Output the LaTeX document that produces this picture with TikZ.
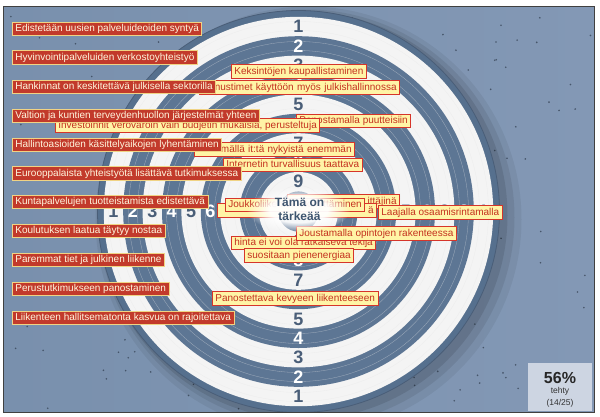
\documentclass[tikz,border=0pt]{standalone}
\usepackage{fontspec}
\setmainfont{Liberation Sans}
\usetikzlibrary{positioning}
\usetikzlibrary{fadings}
\definecolor{bgleft}{HTML}{7990AD}
\definecolor{bgmid}{HTML}{627E9E}
\definecolor{bgright}{HTML}{8398B5}
\definecolor{speck}{HTML}{2E3B4C}
\definecolor{rim}{HTML}{56708E}
\definecolor{ringb}{HTML}{5D7694}
\definecolor{ringw}{HTML}{F4F4F4}
\definecolor{numdark}{HTML}{4A5E78}
\definecolor{lblred}{HTML}{C23A2B}
\definecolor{lblrim}{HTML}{F0D384}
\definecolor{lbltext}{HTML}{FFF6DE}
\definecolor{ylwfill}{HTML}{FFF4A6}
\definecolor{ylwrim}{HTML}{D6352A}
\definecolor{ylwtext}{HTML}{C4311F}
\definecolor{focustext}{HTML}{3E556F}
\definecolor{statfill}{HTML}{CDD5E2}
\pgfdeclareradialshading{glowshade}{\pgfpointorigin}{color(0bp)=(white); color(14bp)=(white); color(25bp)=(black); color(50bp)=(black)}
\pgfdeclarefading{glowfade}{\pgfuseshading{glowshade}}

\begin{document}
\begin{tikzpicture}[x=1pt,y=-1pt,
    redlbl/.style={draw=lblrim, fill=lblred, text=lbltext, line width=0.8pt,
        font=\fontsize{10}{11}\selectfont, inner xsep=3pt, inner ysep=2pt,
        text height=7.3pt, text depth=2pt, anchor=west},
    ylwlbl/.style={draw=ylwrim, fill=ylwfill, text=ylwtext, line width=0.8pt,
        font=\fontsize{10}{11}\selectfont, inner xsep=3pt, inner ysep=2pt,
        text height=7.3pt, text depth=2pt, anchor=west},
    ringnum/.style={font=\fontsize{18}{18}\bfseries\selectfont, inner sep=0pt}
    ]
\edef\cx{298.5}
\edef\cy{211.5}
\edef\R{201}

\useasboundingbox (0,0) rectangle (600,416);
\shade[left color=bgleft, middle color=bgmid, right color=bgright] (3,6) rectangle (594,412);

% specks on the backdrop
\pgfmathsetseed{17}
\foreach \i in {1,...,140} {
  \pgfmathsetmacro{\sx}{6+rnd*585}
  \pgfmathsetmacro{\sy}{9+rnd*400}
  \fill[speck, opacity=0.7] (\sx,\sy) circle (0.9);
}

\begin{scope}
\clip (3,6) rectangle (594,412);
% shadow of the board
\fill[black, opacity=0.06] (\cx+10,\cy+8) circle (\R+12);
\fill[black, opacity=0.08] (\cx+8,\cy+6) circle (\R+7);
\fill[black, opacity=0.10] (\cx+5,\cy+4) circle (\R+3);

% the board
\filldraw[fill=rim, draw=numdark, thick] (\cx,\cy) circle (\R);
\fill[ringw] (\cx,\cy) circle (194.7);
\fill[ringb] (\cx,\cy) circle (175.3);
\fill[ringw] (\cx,\cy) circle (155.9);
\fill[ringb] (\cx,\cy) circle (136.5);
\fill[ringw] (\cx,\cy) circle (117.1);
\fill[ringb] (\cx,\cy) circle (97.7);
\fill[ringw] (\cx,\cy) circle (78.3);
\fill[ringb] (\cx,\cy) circle (58.9);
\fill[ringw] (\cx,\cy) circle (39.5);
\fill[ringb] (\cx,\cy) circle (20.1);

% grooves
\foreach \g in {190,181,170,161,151,142,132,122,113,103,93,84,74,64,55,45,35,26}
  \draw[gray!20, line width=0.3pt, opacity=0.5] (\cx,\cy) circle (\g);
\end{scope}

% ring numbers
\foreach \k in {1,...,9} {
  \pgfmathsetmacro{\rr}{185-19.4*(\k-1)}
  \pgfmathtruncatemacro{\odd}{mod(\k,2)}
  \ifnum\odd=1 \def\nc{numdark}\else\def\nc{white}\fi
  \node[ringnum, text=\nc] (nt\k) at (\cx,\cy-\rr) {\k};
  \node[ringnum, text=\nc] (nb\k) at (\cx,\cy+\rr) {\k};
  \node[ringnum, text=\nc] (nl\k) at (\cx-\rr,\cy) {\k};
  \node[ringnum, text=\nc] (nr\k) at (\cx+\rr,\cy) {\k};
}

% answers placed on the board
\node[ylwlbl] (keksinto) at (231,71.5) {Keksintöjen kaupallistaminen};
\node[ylwlbl, anchor=east, text width=194pt, align=right] (tunnus) at (400,87.5) {nustimet käyttöön myös julkishallinnossa};
\node[ylwlbl] (puute) at (296,121) {Panostamalla puutteisiin};
\node[ylwlbl] (invest) at (55,125.5) {Investoinnit verovaroin vain budjetin mukaisia, perusteltuja};
\node[ylwlbl, anchor=east, text width=154pt, align=right] (itta) at (355,149.5) {mällä it:tä nykyistä enemmän};
\node[ylwlbl] (netti) at (223,165) {Internetin turvallisuus taattava};
\node[ylwlbl, anchor=east, text width=106pt, align=right] (kehit) at (400,201.5) {ittäjinä};
\node[ylwlbl, anchor=east, text width=153pt, align=right] (piilo) at (377,210.5) {ä};
\node[ylwlbl] (joukko) at (225,205) {Joukkoliikenteen kehittäminen};
\node[ylwlbl] (laaja) at (378,212.5) {Laajalla osaamisrintamalla};
\node[ylwlbl] (hinta) at (231,243) {hinta ei voi ola ratkaiseva tekijä};
\node[ylwlbl] (jousto) at (296,233.5) {Joustamalla opintojen rakenteessa};
\node[ylwlbl] (pienen) at (244,255.5) {suositaan pienenergiaa};
\node[ylwlbl] (kevyt) at (212,298.5) {Panostettava kevyeen liikenteeseen};

% glow and the bullseye text
\fill[white, path fading=glowfade, fill opacity=0.95] (\cx,\cy-2) ellipse (52 and 23);
\node[font=\fontsize{12}{14}\bfseries\selectfont, text=focustext, align=center] (focus) at (\cx+1,\cy-2) {Tämä on\\tärkeää};

% answers not yet placed
\node[redlbl] (l1) at (12,29) {Edistetään uusien palveluideoiden syntyä};
\node[redlbl] (l2) at (12,57.5) {Hyvinvointipalveluiden verkostoyhteistyö};
\node[redlbl] (l3) at (12,87) {Hankinnat on keskitettävä julkisella sektorilla};
\node[redlbl] (l4) at (12,116) {Valtion ja kuntien terveydenhuollon järjestelmät yhteen};
\node[redlbl] (l5) at (12,145) {Hallintoasioiden käsittelyaikojen lyhentäminen};
\node[redlbl] (l6) at (12,173.5) {Eurooppalaista yhteistyötä lisättävä tutkimuksessa};
\node[redlbl] (l7) at (12,202) {Kuntapalvelujen tuotteistamista edistettävä};
\node[redlbl] (l8) at (12,231) {Koulutuksen laatua täytyy nostaa};
\node[redlbl] (l9) at (12,260) {Paremmat tiet ja julkinen liikenne};
\node[redlbl] (l10) at (12,289) {Perustutkimukseen panostaminen};
\node[redlbl] (l11) at (12,318) {Liikenteen hallitsematonta kasvua on rajoitettava};

% progress box
\node[fill=statfill, minimum width=64pt, minimum height=48pt, inner sep=0pt] (stat) at (560,387) {};
\node[font=\fontsize{16}{16}\bfseries\selectfont, text=black!85] (pct) at (560,377.5) {56\%};
\node[font=\fontsize{8.5}{8.5}\selectfont, text=black!80] (tehty) at (560,391) {tehty};
\node[font=\fontsize{8.5}{8.5}\selectfont, text=black!80] (count) at (560,403) {(14/25)};

\draw[black!75, line width=1pt] (3,6) rectangle (594,412);
\end{tikzpicture}
\end{document}
